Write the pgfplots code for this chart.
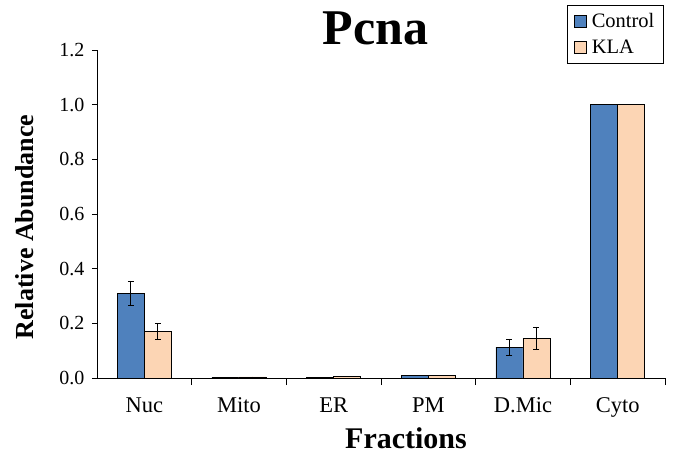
\documentclass[border=0pt]{standalone}
\usepackage{fontspec}
\setmainfont{Liberation Serif}
\usepackage{pgfplots}
\pgfplotsset{compat=1.18}
\definecolor{ctrl}{HTML}{4F81BD}
\definecolor{kla}{HTML}{FCD5B4}
\begin{document}
\begin{tikzpicture}
\useasboundingbox (-97pt,-75pt) rectangle (576pt,378pt);
\begin{axis}[
  scale only axis, width=568pt, height=328pt,
  xmin=-0.5, xmax=5.5, ymin=0, ymax=1.2,
  ybar=0pt, bar width=27pt,
  axis lines*=left,
  axis line style={black, line width=0.8pt, -},
  xtick={0,...,5},
  xticklabels={Nuc,Mito,ER,PM,D.Mic,Cyto},
  minor xtick={0.5,1.5,2.5,3.5,4.5,5.5},
  major x tick style={draw=none},
  minor tick length=7pt,
  major tick length=5pt,
  tick align=outside,
  tick style={black, line width=0.8pt},
  ytick={0,0.2,0.4,0.6,0.8,1.0,1.2},
  yticklabel style={/pgf/number format/fixed, /pgf/number format/fixed zerofill, /pgf/number format/precision=1, font=\fontsize{20}{22}\selectfont, xshift=-4pt},
  /pgf/number format/assume math mode=true,
  xticklabel style={font=\fontsize{22.5}{24}\selectfont, yshift=-11pt},
  title={\fontsize{50}{55}\selectfont\bfseries Pcna},
  title style={at={(axis description cs:0.49,1)}, anchor=base, yshift=-1pt},
  xlabel={\fontsize{30}{32}\selectfont\bfseries Fractions},
  xlabel style={at={(axis description cs:0.544,0)}, anchor=base, yshift=-70pt},
  ylabel={\fontsize{26}{28}\selectfont\bfseries Relative Abundance},
  ylabel style={at={(axis description cs:-0.127,0.46)}, anchor=center},
  legend style={at={(axis description cs:0.827,1.137)}, anchor=north west,
    draw=black, line width=0.8pt, font=\fontsize{20.5}{22}\selectfont,
    row sep=7pt, inner xsep=7pt, inner ysep=6pt},
  legend cell align=left,
  legend image code/.code={\draw[#1, line width=0.6pt] (2pt,-6pt) rectangle (14pt,6pt); \path (17pt,0pt);},
  error bars/error bar style={black, line width=0.7pt},
]
\addplot[fill=ctrl, draw=black, line width=0.7pt,
  error bars/.cd, y dir=both, y explicit,
  error mark options={rotate=90, mark size=3pt, black, line width=0.7pt}]
  coordinates {(0,0.31) +- (0,0.045) (1,0.003) +- (0,0) (2,0.003) +- (0,0) (3,0.008) +- (0,0) (4,0.113) +- (0,0.03) (5,1.0) +- (0,0)};
\addplot[fill=kla, draw=black, line width=0.7pt,
  error bars/.cd, y dir=both, y explicit,
  error mark options={rotate=90, mark size=3pt, black, line width=0.7pt}]
  coordinates {(0,0.17) +- (0,0.03) (1,0.004) +- (0,0) (2,0.005) +- (0,0) (3,0.009) +- (0,0) (4,0.145) +- (0,0.042) (5,1.0) +- (0,0)};
\legend{Control,KLA}
\end{axis}
\end{tikzpicture}
\end{document}
